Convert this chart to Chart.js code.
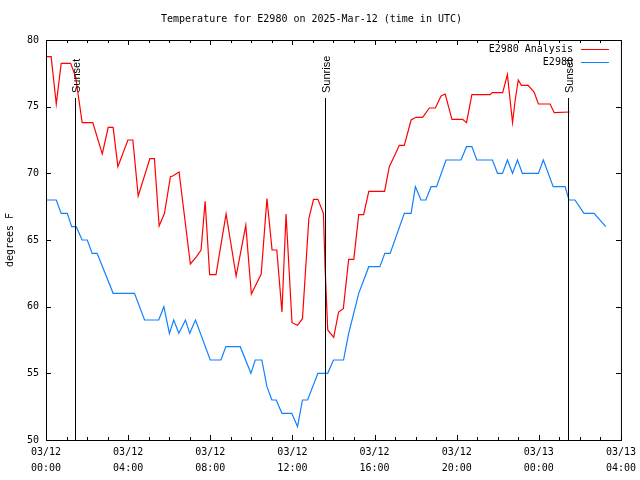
<!DOCTYPE html>
<html>
<head>
<meta charset="utf-8">
<script src="https://cdn.jsdelivr.net/npm/chart.js@4/dist/chart.umd.min.js"></script>
<style>
  html, body { margin: 0; padding: 0; background: #fff; }
  #wrap { width: 640px; height: 480px; }
</style>
</head>
<body>
<div id="wrap"><canvas id="tempChart" width="640" height="480"></canvas></div>
<script>
// hours since 03/12 00:00 UTC
const redHours = [0, 0.25, 0.50, 0.74, 1.20, 1.44, 1.65, 1.76, 2.28, 2.74, 3.03, 3.27, 3.50, 3.99, 4.23,
    4.49, 5.06, 5.28, 5.51, 5.77, 6.06, 6.17, 6.48, 7.03, 7.33, 7.55, 7.75, 7.97, 8.28, 8.77,
    9.26, 9.73, 10.0, 10.48, 10.76, 11.01, 11.24, 11.49, 11.69, 11.98, 12.25, 12.49, 12.80, 13.03, 13.24,
    13.51, 13.59, 13.72, 14.01, 14.25, 14.48, 14.74, 14.99, 15.23, 15.47, 15.72, 16.49, 16.72, 17.21, 17.45,
    17.78, 18.02, 18.34, 18.67, 18.96, 19.24, 19.44, 19.77, 20.29, 20.48, 20.74, 21.63, 21.73, 22.24, 22.47,
    22.72, 22.85, 23.0, 23.15, 23.48, 23.77, 23.98, 24.55, 24.75, 25.51];
const redTemps = [78.75, 78.75, 75.2, 78.25, 78.25, 77.25, 75.0, 73.8, 73.8, 71.45, 73.45, 73.45, 70.5, 72.5, 72.5,
    68.3, 71.1, 71.1, 66.05, 67.0, 69.75, 69.8, 70.1, 63.2, 63.75, 64.25, 67.9, 62.4, 62.4, 66.95,
    62.3, 66.1, 60.95, 62.45, 68.1, 64.25, 64.25, 59.6, 66.95, 58.8, 58.6, 59.1, 66.6, 68.05, 68.05,
    67.0, 63.0, 58.25, 57.7, 59.6, 59.85, 63.55, 63.55, 66.9, 66.9, 68.65, 68.65, 70.5, 72.1, 72.1,
    74.0, 74.2, 74.2, 74.9, 74.9, 75.8, 75.95, 74.05, 74.05, 73.8, 75.9, 75.9, 76.05, 76.05, 77.4,
    73.8, 75.5, 77.0, 76.6, 76.6, 76.1, 75.2, 75.2, 74.55, 74.6];

const blueHours = [0, 0.50, 0.74, 1.04, 1.25, 1.47, 1.76, 2.01, 2.25, 2.49, 3.27, 4.31, 4.80, 5.49, 5.74,
    6.01, 6.22, 6.47, 6.79, 7.0, 7.28, 8.0, 8.52, 8.76, 9.46, 9.98, 10.19, 10.51, 10.76, 11.0,
    11.21, 11.49, 11.97, 12.25, 12.49, 12.74, 13.24, 13.72, 14.0, 14.49, 14.74, 15.23, 15.72, 16.26, 16.50,
    16.76, 17.45, 17.78, 17.99, 18.26, 18.50, 18.75, 19.02, 19.48, 20.21, 20.48, 20.74, 20.98, 21.74, 21.99,
    22.23, 22.47, 22.72, 22.96, 23.20, 23.98, 24.22, 24.70, 25.28, 25.47, 25.76, 26.20, 26.69, 27.26];
const blueTemps = [68, 68, 67, 67, 66, 66, 65, 65, 64, 64, 61, 61, 59, 59, 60,
    58, 59, 58, 59, 58, 59, 56, 56, 57, 57, 55, 56, 56, 54, 53,
    53, 52, 52, 51, 53, 53, 55, 55, 56, 56, 58, 61, 63, 63, 64,
    64, 67, 67, 69, 68, 68, 69, 69, 71, 71, 72, 72, 71, 71, 70,
    70, 71, 70, 71, 70, 70, 71, 69, 69, 68, 68, 67, 67, 66];

const xTickDates = ['03/12', '03/12', '03/12', '03/12', '03/12', '03/12', '03/13', '03/13'];
const xTickTimes = ['00:00', '04:00', '08:00', '12:00', '16:00', '20:00', '00:00', '04:00'];
const yTicks = [50, 55, 60, 65, 70, 75, 80];

const sunHours = [1.43, 13.58, 25.40];
const sunLabels = ['Sunset', 'Sunrise', 'Sunset'];

const MONO = '"DejaVu Sans Mono", monospace';

function toPoints(hours, temps) {
    return hours.map((h, i) => ({ x: h, y: temps[i] }));
}

const gnuplotFrame = {
    id: 'gnuplotFrame',
    afterDatasetsDraw(chart) {
        const ctx = chart.ctx;
        const a = chart.chartArea;
        const xs = chart.scales.x;
        const ys = chart.scales.y;
        ctx.save();
        ctx.strokeStyle = '#000';
        ctx.lineWidth = 1;

        // sunrise / sunset markers
        ctx.font = '11px "Liberation Sans", Arial, sans-serif';
        ctx.fillStyle = '#000';
        sunHours.forEach((h, i) => {
            const px = Math.round(xs.getPixelForValue(h)) + 0.5;
            ctx.beginPath();
            ctx.moveTo(px, a.bottom);
            ctx.lineTo(px, a.top + 58);
            ctx.stroke();
            ctx.save();
            ctx.translate(px + 1, a.top + 53);
            ctx.rotate(-Math.PI / 2);
            ctx.textAlign = 'left';
            ctx.textBaseline = 'middle';
            ctx.fillText(sunLabels[i], 0, 0);
            ctx.restore();
        });

        // frame
        ctx.strokeRect(a.left + 0.5, a.top + 0.5, a.right - a.left, a.bottom - a.top);

        // inward ticks
        ctx.beginPath();
        xs.ticks.forEach(t => {
            const px = Math.round(xs.getPixelForValue(t.value)) + 0.5;
            const len = t.value % 4 === 0 ? 5 : 3;
            ctx.moveTo(px, a.bottom);
            ctx.lineTo(px, a.bottom - len);
            ctx.moveTo(px, a.top);
            ctx.lineTo(px, a.top + len);
        });
        ys.ticks.forEach(t => {
            const py = Math.round(ys.getPixelForValue(t.value)) + 0.5;
            ctx.moveTo(a.left, py);
            ctx.lineTo(a.left + 5, py);
            ctx.moveTo(a.right, py);
            ctx.lineTo(a.right - 5, py);
        });
        ctx.stroke();

        // legend, gnuplot style (text then sample line)
        ctx.font = '10px ' + MONO;
        ctx.textAlign = 'right';
        ctx.textBaseline = 'middle';
        chart.data.datasets.forEach((ds, i) => {
            const ly = Math.round(a.top + 9 + 13 * i) + 0.5;
            ctx.fillStyle = '#000';
            ctx.fillText(ds.label, a.right - 48, ly);
            ctx.strokeStyle = ds.borderColor;
            ctx.beginPath();
            ctx.moveTo(a.right - 40, ly);
            ctx.lineTo(a.right - 12, ly);
            ctx.stroke();
        });
        ctx.restore();
    }
};

new Chart(document.getElementById('tempChart'), {
    type: 'line',
    data: {
        datasets: [{
            label: 'E2980 Analysis',
            data: toPoints(redHours, redTemps),
            borderColor: '#ff0000',
            borderWidth: 1.2,
            pointRadius: 0,
            tension: 0
        }, {
            label: 'E2980',
            data: toPoints(blueHours, blueTemps),
            borderColor: 'rgb(16, 128, 255)',
            borderWidth: 1.2,
            pointRadius: 0,
            tension: 0
        }]
    },
    options: {
        responsive: false,
        animation: false,
        layout: { padding: { left: 0, right: 17, top: 0, bottom: 0 } },
        plugins: {
            legend: { display: false },
            tooltip: { enabled: false },
            title: {
                display: true,
                text: 'Temperature for E2980 on 2025-Mar-12 (time in UTC)',
                color: '#000',
                font: { family: MONO, size: 10, weight: 'normal', lineHeight: 1.2 },
                padding: { top: 13, bottom: 15 }
            }
        },
        scales: {
            x: {
                type: 'linear',
                min: 0,
                max: 28,
                grid: { display: false, drawTicks: false },
                border: { display: false },
                afterFit: scale => { scale.height = 40; },
                ticks: {
                    stepSize: 1,
                    autoSkip: false,
                    maxRotation: 0,
                    minRotation: 0,
                    padding: 4,
                    color: '#000',
                    font: { family: MONO, size: 10, lineHeight: 1.6 },
                    callback: v => v % 4 === 0 ? [xTickDates[v / 4], xTickTimes[v / 4]] : ''
                }
            },
            y: {
                min: 50,
                max: 80,
                grid: { display: false, drawTicks: false },
                border: { display: false },
                afterFit: scale => { scale.width = 46; },
                afterBuildTicks: scale => { scale.ticks = yTicks.map(v => ({ value: v })); },
                ticks: {
                    padding: 7,
                    color: '#000',
                    font: { family: MONO, size: 10 }
                },
                title: {
                    display: true,
                    text: 'degrees F',
                    color: '#000',
                    font: { family: MONO, size: 10 },
                    padding: { top: 4, bottom: 0 }
                }
            }
        }
    },
    plugins: [gnuplotFrame]
});
</script>
</body>
</html>
